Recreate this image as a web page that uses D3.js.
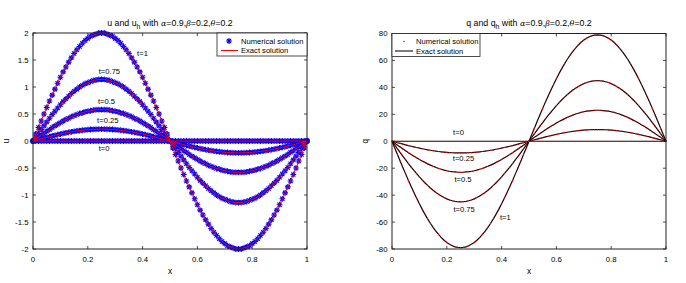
<!DOCTYPE html>
<html>
<head>
<meta charset="utf-8">
<script src="https://cdn.jsdelivr.net/npm/d3@7"></script>
<style>
  body { margin: 0; background: #fff; }
  svg text { font-family: "Liberation Sans", Arial, sans-serif; fill: #000; }
</style>
</head>
<body>
<svg id="chart" width="686" height="283"></svg>
<script>
// sampling grid x = 0, 0.01, ..., 1
const xGrid = d3.range(101).map(i => i / 100);

const xTicks = [0, 0.2, 0.4, 0.6, 0.8, 1];
const uTicks = [-2, -1.5, -1, -0.5, 0, 0.5, 1, 1.5, 2];
const qTicks = [-80, -60, -40, -20, 0, 20, 40, 60, 80];
const timeLabels = ["t=0", "t=0.25", "t=0.5", "t=0.75", "t=1"];

// u(x,t)
const u_t0 = [0,0,0,0,0,0,0,0,0,0,0,0,0,0,0,0,0,0,0,0,0,0,0,0,0,0,0,0,0,0,0,0,0,0,0,0,0,0,0,0,0,0,0,0,0,0,0,0,0,0,0,
  0,0,0,0,0,0,0,0,0,0,0,0,0,0,0,0,0,0,0,0,0,0,0,0,0,0,0,0,0,0,0,0,0,0,0,0,0,0,0,0,0,0,0,0,0,0,0,0,0,0];
const u_t025 = [0,.014,.028,.041,.055,.068,.081,.094,.106,.118,.129,.14,.151,.16,.17,.178,.186,.193,.199,.205,.209,.213,.216,.218,.22,.22,
  .22,.218,.216,.213,.209,.205,.199,.193,.186,.178,.17,.16,.151,.14,.129,.118,.106,.094,.081,.068,.055,.041,.028,.014,0,
  -.014,-.028,-.041,-.055,-.068,-.081,-.094,-.106,-.118,-.129,-.14,-.151,-.16,-.17,-.178,-.186,-.193,-.199,-.205,-.209,-.213,-.216,-.218,-.22,-.22,
  -.22,-.218,-.216,-.213,-.209,-.205,-.199,-.193,-.186,-.178,-.17,-.16,-.151,-.14,-.129,-.118,-.106,-.094,-.081,-.068,-.055,-.041,-.028,-.014,0];
const u_t05 = [0,.04,.07,.11,.14,.18,.21,.25,.28,.31,.34,.37,.4,.42,.45,.47,.49,.51,.52,.54,.55,.56,.57,.58,.58,.58,
  .58,.58,.57,.56,.55,.54,.52,.51,.49,.47,.45,.42,.4,.37,.34,.31,.28,.25,.21,.18,.14,.11,.07,.04,0,
  -.04,-.07,-.11,-.14,-.18,-.21,-.25,-.28,-.31,-.34,-.37,-.4,-.42,-.45,-.47,-.49,-.51,-.52,-.54,-.55,-.56,-.57,-.58,-.58,-.58,
  -.58,-.58,-.57,-.56,-.55,-.54,-.52,-.51,-.49,-.47,-.45,-.42,-.4,-.37,-.34,-.31,-.28,-.25,-.21,-.18,-.14,-.11,-.07,-.04,0];
const u_t075 = [0,.07,.14,.21,.28,.35,.42,.49,.55,.61,.67,.73,.78,.83,.88,.92,.96,1,1.03,1.06,1.08,1.1,1.12,1.13,1.14,1.14,
  1.14,1.13,1.12,1.1,1.08,1.06,1.03,1,.96,.92,.88,.83,.78,.73,.67,.61,.55,.49,.42,.35,.28,.21,.14,.07,0,
  -.07,-.14,-.21,-.28,-.35,-.42,-.49,-.55,-.61,-.67,-.73,-.78,-.83,-.88,-.92,-.96,-1,-1.03,-1.06,-1.08,-1.1,-1.12,-1.13,-1.14,-1.14,
  -1.14,-1.13,-1.12,-1.1,-1.08,-1.06,-1.03,-1,-.96,-.92,-.88,-.83,-.78,-.73,-.67,-.61,-.55,-.49,-.42,-.35,-.28,-.21,-.14,-.07,0];
const u_t1 = [0,.13,.25,.37,.5,.62,.74,.85,.96,1.07,1.18,1.28,1.37,1.46,1.54,1.62,1.69,1.75,1.81,1.86,1.9,1.94,1.96,1.98,2,2,
  2,1.98,1.96,1.94,1.9,1.86,1.81,1.75,1.69,1.62,1.54,1.46,1.37,1.28,1.18,1.07,.96,.85,.74,.62,.5,.37,.25,.13,0,
  -.13,-.25,-.37,-.5,-.62,-.74,-.85,-.96,-1.07,-1.18,-1.28,-1.37,-1.46,-1.54,-1.62,-1.69,-1.75,-1.81,-1.86,-1.9,-1.94,-1.96,-1.98,-2,-2,
  -2,-1.98,-1.96,-1.94,-1.9,-1.86,-1.81,-1.75,-1.69,-1.62,-1.54,-1.46,-1.37,-1.28,-1.18,-1.07,-.96,-.85,-.74,-.62,-.5,-.37,-.25,-.13,0];

// q(x,t)
const q_t0 = u_t0.slice();
const q_t025 = [0,-.55,-1.09,-1.63,-2.16,-2.69,-3.2,-3.7,-4.19,-4.66,-5.11,-5.55,-5.96,-6.34,-6.7,-7.04,-7.35,-7.62,-7.87,-8.09,-8.27,-8.43,-8.55,-8.63,-8.68,-8.7,
  -8.68,-8.63,-8.55,-8.43,-8.27,-8.09,-7.87,-7.62,-7.35,-7.04,-6.7,-6.34,-5.96,-5.55,-5.11,-4.66,-4.19,-3.7,-3.2,-2.69,-2.16,-1.63,-1.09,-.55,0,
  .55,1.09,1.63,2.16,2.69,3.2,3.7,4.19,4.66,5.11,5.55,5.96,6.34,6.7,7.04,7.35,7.62,7.87,8.09,8.27,8.43,8.55,8.63,8.68,8.7,
  8.68,8.63,8.55,8.43,8.27,8.09,7.87,7.62,7.35,7.04,6.7,6.34,5.96,5.55,5.11,4.66,4.19,3.7,3.2,2.69,2.16,1.63,1.09,.55,0];
const q_t05 = [0,-1.4,-2.9,-4.3,-5.7,-7.1,-8.5,-9.8,-11.1,-12.3,-13.5,-14.7,-15.7,-16.8,-17.7,-18.6,-19.4,-20.2,-20.8,-21.4,-21.9,-22.3,-22.6,-22.8,-23,-23,
  -23,-22.8,-22.6,-22.3,-21.9,-21.4,-20.8,-20.2,-19.4,-18.6,-17.7,-16.8,-15.7,-14.7,-13.5,-12.3,-11.1,-9.8,-8.5,-7.1,-5.7,-4.3,-2.9,-1.4,0,
  1.4,2.9,4.3,5.7,7.1,8.5,9.8,11.1,12.3,13.5,14.7,15.7,16.8,17.7,18.6,19.4,20.2,20.8,21.4,21.9,22.3,22.6,22.8,23,23,
  23,22.8,22.6,22.3,21.9,21.4,20.8,20.2,19.4,18.6,17.7,16.8,15.7,14.7,13.5,12.3,11.1,9.8,8.5,7.1,5.7,4.3,2.9,1.4,0];
const q_t075 = [0,-2.8,-5.6,-8.4,-11.2,-13.9,-16.6,-19.2,-21.7,-24.1,-26.5,-28.7,-30.8,-32.8,-34.7,-36.4,-38,-39.4,-40.7,-41.8,-42.8,-43.6,-44.2,-44.6,-44.9,-45,
  -44.9,-44.6,-44.2,-43.6,-42.8,-41.8,-40.7,-39.4,-38,-36.4,-34.7,-32.8,-30.8,-28.7,-26.5,-24.1,-21.7,-19.2,-16.6,-13.9,-11.2,-8.4,-5.6,-2.8,0,
  2.8,5.6,8.4,11.2,13.9,16.6,19.2,21.7,24.1,26.5,28.7,30.8,32.8,34.7,36.4,38,39.4,40.7,41.8,42.8,43.6,44.2,44.6,44.9,45,
  44.9,44.6,44.2,43.6,42.8,41.8,40.7,39.4,38,36.4,34.7,32.8,30.8,28.7,26.5,24.1,21.7,19.2,16.6,13.9,11.2,8.4,5.6,2.8,0];
const q_t1 = [0,-5,-9.9,-14.8,-19.6,-24.4,-29.1,-33.6,-38.1,-42.3,-46.4,-50.4,-54.1,-57.6,-60.9,-63.9,-66.7,-69.2,-71.5,-73.5,-75.1,-76.5,-77.6,-78.4,-78.8,-79,
  -78.8,-78.4,-77.6,-76.5,-75.1,-73.5,-71.5,-69.2,-66.7,-63.9,-60.9,-57.6,-54.1,-50.4,-46.4,-42.3,-38.1,-33.6,-29.1,-24.4,-19.6,-14.8,-9.9,-5,0,
  5,9.9,14.8,19.6,24.4,29.1,33.6,38.1,42.3,46.4,50.4,54.1,57.6,60.9,63.9,66.7,69.2,71.5,73.5,75.1,76.5,77.6,78.4,78.8,79,
  78.8,78.4,77.6,76.5,75.1,73.5,71.5,69.2,66.7,63.9,60.9,57.6,54.1,50.4,46.4,42.3,38.1,33.6,29.1,24.4,19.6,14.8,9.9,5,0];

const uSeries = [u_t0, u_t025, u_t05, u_t075, u_t1];
const qSeries = [q_t0, q_t025, q_t05, q_t075, q_t1];

// where the t= labels sit, in data units
const uLabelAt = [[0.24, -0.19], [0.234, 0.33], [0.237, 0.69], [0.24, 1.24], [0.38, 1.58]];
const qLabelAt = [[0.223, 4.8], [0.222, -15], [0.228, -30.4], [0.224, -52.2], [0.394, -58.4]];

const svg = d3.select("#chart");

function starPath(r) {
  const a = r * 0.72;
  return `M${-r},0L${r},0M0,${-r}L0,${r}M${-a},${-a}L${a},${a}M${-a},${a}L${a},${-a}`;
}

function drawTitle(g, cx, v) {
  const t = g.append("text").attr("x", cx).attr("y", 25.5)
    .attr("text-anchor", "middle").style("font-size", "8.8px");
  t.append("tspan").text(`${v} and ${v}`);
  t.append("tspan").attr("dy", 3).style("font-size", "6.8px").text("h");
  t.append("tspan").attr("dy", -3).text(" with ");
  const parts = [["α", "=0.9,"], ["β", "=0.2,"], ["θ", "=0.2"]];
  parts.forEach(p => {
    t.append("tspan").style("font-family", "'DejaVu Serif', serif").style("font-style", "italic")
      .style("font-size", "8px").text(p[0]);
    t.append("tspan").text(p[1]);
  });
}

function drawPanel(o) {
  const g = svg.append("g");
  const x = d3.scaleLinear().domain([0, 1]).range([o.left, o.right]);
  const y = d3.scaleLinear().domain(o.yDomain).range([o.bottom, o.top]);

  // tick marks inside on all four sides
  const tickLen = 3;
  const ticks = g.append("g").attr("stroke", "#222").attr("stroke-width", 0.8);
  xTicks.forEach(v => {
    ticks.append("line").attr("x1", x(v)).attr("x2", x(v)).attr("y1", o.bottom).attr("y2", o.bottom - tickLen);
    ticks.append("line").attr("x1", x(v)).attr("x2", x(v)).attr("y1", o.top).attr("y2", o.top + tickLen);
  });
  o.yTicks.forEach(v => {
    ticks.append("line").attr("x1", o.left).attr("x2", o.left + tickLen).attr("y1", y(v)).attr("y2", y(v));
    ticks.append("line").attr("x1", o.right).attr("x2", o.right - tickLen).attr("y1", y(v)).attr("y2", y(v));
  });

  g.selectAll(".xl").data(xTicks).enter().append("text")
    .attr("x", d => x(d)).attr("y", o.bottom + 13).attr("text-anchor", "middle")
    .style("font-size", "7.8px").text(d => d);
  g.selectAll(".yl").data(o.yTicks).enter().append("text")
    .attr("x", o.left - 4.5).attr("y", d => y(d) + 2.8).attr("text-anchor", "end")
    .style("font-size", "7.8px").text(d => d);

  g.append("text").attr("x", (o.left + o.right) / 2).attr("y", o.bottom + 25)
    .attr("text-anchor", "middle").style("font-size", "8.3px").text("x");
  g.append("text").attr("transform", `translate(${o.left - 24},${y(0)}) rotate(-90)`)
    .attr("text-anchor", "middle").style("font-size", "8.3px").text(o.yLabel);

  drawTitle(g, (o.left + o.right) / 2, o.yLabel);

  const line = d3.line().x((d, i) => x(xGrid[i])).y(d => y(d));
  const plot = g.append("g");

  o.series.forEach(s => {
    if (o.kind === "u") {
      plot.append("g").selectAll("path").data(s).enter().append("path")
        .attr("transform", (d, i) => `translate(${x(xGrid[i])},${y(d)})`)
        .attr("d", starPath(2.9)).attr("stroke", "#0000ff").attr("stroke-width", 1.1).attr("fill", "none");
    }
  });
  o.series.forEach(s => {
    plot.append("path").datum(s).attr("d", line).attr("fill", "none")
      .attr("stroke", o.kind === "u" ? "#ff0000" : "#1a0000").attr("stroke-width", o.kind === "u" ? 1 : 1.2);
  });
  if (o.kind === "q") {
    o.series.forEach(s => {
      plot.append("g").selectAll("circle").data(s).enter().append("circle")
        .attr("cx", (d, i) => x(xGrid[i])).attr("cy", d => y(d)).attr("r", 0.6).attr("fill", "#ff0000");
    });
  }

  // time labels
  g.selectAll(".tl").data(o.labelAt).enter().append("text")
    .attr("x", d => x(d[0])).attr("y", d => y(d[1])).style("font-size", "7.6px")
    .text((d, i) => timeLabels[i]);

  // frame
  g.append("rect").attr("x", o.left).attr("y", o.top).attr("width", o.right - o.left)
    .attr("height", o.bottom - o.top).attr("fill", "none").attr("stroke", "#222").attr("stroke-width", 1);

  // legend
  const lg = g.append("g");
  lg.append("rect").attr("x", o.legend[0]).attr("y", o.top).attr("width", o.legend[1])
    .attr("height", 23).attr("fill", "#fff").attr("stroke", "#222").attr("stroke-width", 0.8);
  const lx = o.legend[0];
  if (o.kind === "u") {
    lg.append("path").attr("transform", `translate(${lx + 12},${o.top + 8})`).attr("d", starPath(2.9))
      .attr("stroke", "#0000ff").attr("stroke-width", 1.1).attr("fill", "none");
    lg.append("line").attr("x1", lx + 4).attr("x2", lx + 21).attr("y1", o.top + 17.5).attr("y2", o.top + 17.5)
      .attr("stroke", "#ff0000");
  } else {
    lg.append("circle").attr("cx", lx + 12).attr("cy", o.top + 8).attr("r", 0.8).attr("fill", "#ff0000");
    lg.append("line").attr("x1", lx + 3).attr("x2", lx + 21).attr("y1", o.top + 17.5).attr("y2", o.top + 17.5)
      .attr("stroke", "#222").attr("stroke-width", 1.2);
  }
  lg.append("text").attr("x", lx + 24).attr("y", o.top + 10.5).style("font-size", "7.6px").text("Numerical solution");
  lg.append("text").attr("x", lx + 24).attr("y", o.top + 20).style("font-size", "7.6px").text("Exact solution");
}

drawPanel({
  kind: "u", left: 33, right: 307, top: 33, bottom: 249, yDomain: [-2, 2],
  yTicks: uTicks, yLabel: "u", series: uSeries, labelAt: uLabelAt, legend: [217, 90]
});
drawPanel({
  kind: "q", left: 392, right: 666, top: 33.5, bottom: 249, yDomain: [-80, 80],
  yTicks: qTicks, yLabel: "q", series: qSeries, labelAt: qLabelAt, legend: [392, 88]
});
</script>
</body>
</html>
